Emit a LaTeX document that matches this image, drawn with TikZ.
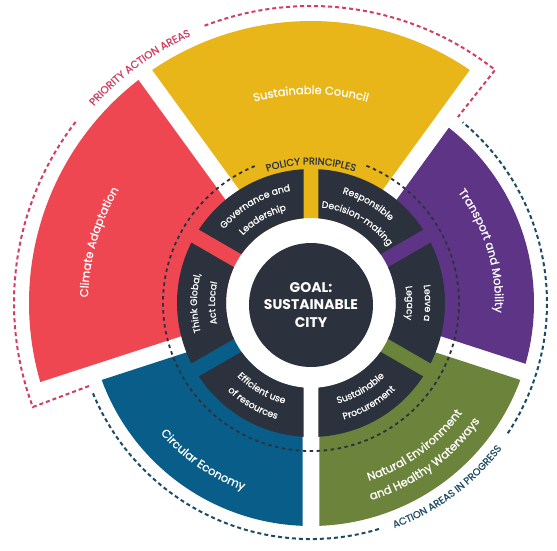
\documentclass[tikz,border=0pt]{standalone}
\usepackage{fontspec}
\setmainfont{Poppins}
\newfontfamily\medfont{Poppins}[FakeBold=0.8]
\newfontfamily\spacedfont{Poppins}[FakeBold=0.6]
\usetikzlibrary{decorations.text}
\definecolor{cRed}{HTML}{EE4752}
\definecolor{cYellow}{HTML}{E8B619}
\definecolor{cPurple}{HTML}{5E3486}
\definecolor{cGreen}{HTML}{6B833B}
\definecolor{cBlue}{HTML}{085E88}
\definecolor{cDark}{HTML}{2C323D}
\definecolor{cPink}{HTML}{D23E62}
\definecolor{cNavy}{HTML}{1D4B66}
% color, a1, a2, rin, rout, halfgap
\newcommand\ringsector[6]{%
  \fill[#1] ({#2+asin(#6/#5)}:#5pt) arc[start angle={#2+asin(#6/#5)}, end angle={#3-asin(#6/#5)}, radius=#5pt]
    -- ({#3-asin(#6/#4)}:#4pt) arc[start angle={#3-asin(#6/#4)}, end angle={#2+asin(#6/#4)}, radius=#4pt] -- cycle;}
% radius, centre angle, format, text  (clockwise, tops outward)
\newcommand\cwtext[4]{%
  \path[decorate,decoration={text along path,text align=center,text={|#3|#4}}]
    ({#2+80}:#1pt) arc[start angle={#2+80},end angle={#2-80},radius=#1pt];}
% counter-clockwise, tops inward
\newcommand\ccwtext[4]{%
  \path[decorate,decoration={text along path,text align=center,text={|#3|#4}}]
    ({#2-80}:#1pt) arc[start angle={#2-80},end angle={#2+80},radius=#1pt];}
\newcommand\outerfmt{\color{white}\medfont\fontsize{11.5}{13}\selectfont}
\newcommand\innerfmt{\color{white}\medfont\fontsize{9.3}{11}\selectfont}
\tikzset{
  pinkline/.style={draw=cPink, line width=2pt, dash pattern=on 4pt off 3pt},
  navyline/.style={draw=cNavy, line width=2pt, dash pattern=on 4pt off 3pt},
  policyline/.style={draw=cDark, line width=1.8pt, dash pattern=on 3.5pt off 3.5pt},
}
\begin{document}
\begin{tikzpicture}[x=1pt,y=1pt]
\useasboundingbox (-311,-247) rectangle (246,303);
\fill[white] (-311,-247) rectangle (246,303);
% outer coloured sectors
\ringsector{cYellow}{54}{126}{85}{282}{8.5}
\ringsector{cRed}{126}{198}{85}{282}{8.5}
\ringsector{cBlue}{198}{270}{85}{223}{8.5}
\ringsector{cGreen}{270}{342}{85}{223}{8.5}
\ringsector{cPurple}{-18}{54}{85}{223}{8.5}
% inner dark segments
\ringsector{cDark}{90}{150}{85}{134}{7.5}
\ringsector{cDark}{30}{90}{85}{134}{7.5}
\ringsector{cDark}{-30}{30}{85}{134}{7.5}
\ringsector{cDark}{-90}{-30}{85}{134}{7.5}
\ringsector{cDark}{-150}{-90}{85}{134}{7.5}
\ringsector{cDark}{150}{210}{85}{134}{7.5}
% centre
\node[circle, fill=cDark, minimum size=124pt, inner sep=0pt, text=white, align=center,
      font=\bfseries\fontsize{14}{17.5}\selectfont] (goal) at (0,-2) {GOAL:\\SUSTAINABLE\\CITY};
% policy principles circle
\draw[policyline] (68:148pt) arc[start angle=68, end angle=-248, radius=148pt];
\cwtext{138.5}{90}{\color{cDark}\spacedfont\fontsize{10}{12}\selectfont}{POLICY PRINCIPLES}
% priority action areas
\draw[pinkline] (200.5:237pt) -- (200.5:297pt) arc[start angle=200.5, end angle=142, radius=297pt];
\draw[pinkline] (111:297pt) arc[start angle=111, end angle=51.7, radius=297pt] -- (51.7:237pt);
\cwtext{293}{126}{\color{cPink}\spacedfont\fontsize{10.5}{12}\selectfont}{PRIORITY ACTION AREAS}
% action areas in progress
\draw[navyline] (202.5:236pt) arc[start angle=202.5, end angle=287, radius=236pt];
\draw[navyline] (326.5:236pt) arc[start angle=326.5, end angle=410, radius=236pt];
\ccwtext{240}{-53.5}{\color{cNavy}\spacedfont\fontsize{10}{12}\selectfont}{ACTION AREAS IN PROGRESS}
% sector labels
\cwtext{209}{90}{\outerfmt}{Sustainable Council}
\cwtext{223}{164}{\outerfmt}{Climate Adaptation}
\cwtext{184}{17}{\outerfmt}{Transport and Mobility}
\ccwtext{199}{235.5}{\outerfmt}{Circular Economy}
\ccwtext{187}{-54}{\outerfmt}{Natural Environment}
\ccwtext{206}{-54}{\outerfmt}{and Healthy Waterways}
% inner labels
\cwtext{114}{120}{\innerfmt}{Governance and}
\cwtext{96}{120}{\innerfmt}{Leadership}
\cwtext{114}{60}{\innerfmt}{Responsible}
\cwtext{96}{60}{\innerfmt}{Decision-making}
\cwtext{114}{0}{\innerfmt}{Leave a}
\cwtext{96}{0}{\innerfmt}{Legacy}
\cwtext{114}{180}{\innerfmt}{Think Global,}
\cwtext{96}{180}{\innerfmt}{Act Local}
\ccwtext{104}{240}{\innerfmt}{Efficient use}
\ccwtext{121}{240}{\innerfmt}{of resources}
\ccwtext{104}{300}{\innerfmt}{Sustainable}
\ccwtext{121}{300}{\innerfmt}{Procurement}
\end{tikzpicture}
\end{document}
